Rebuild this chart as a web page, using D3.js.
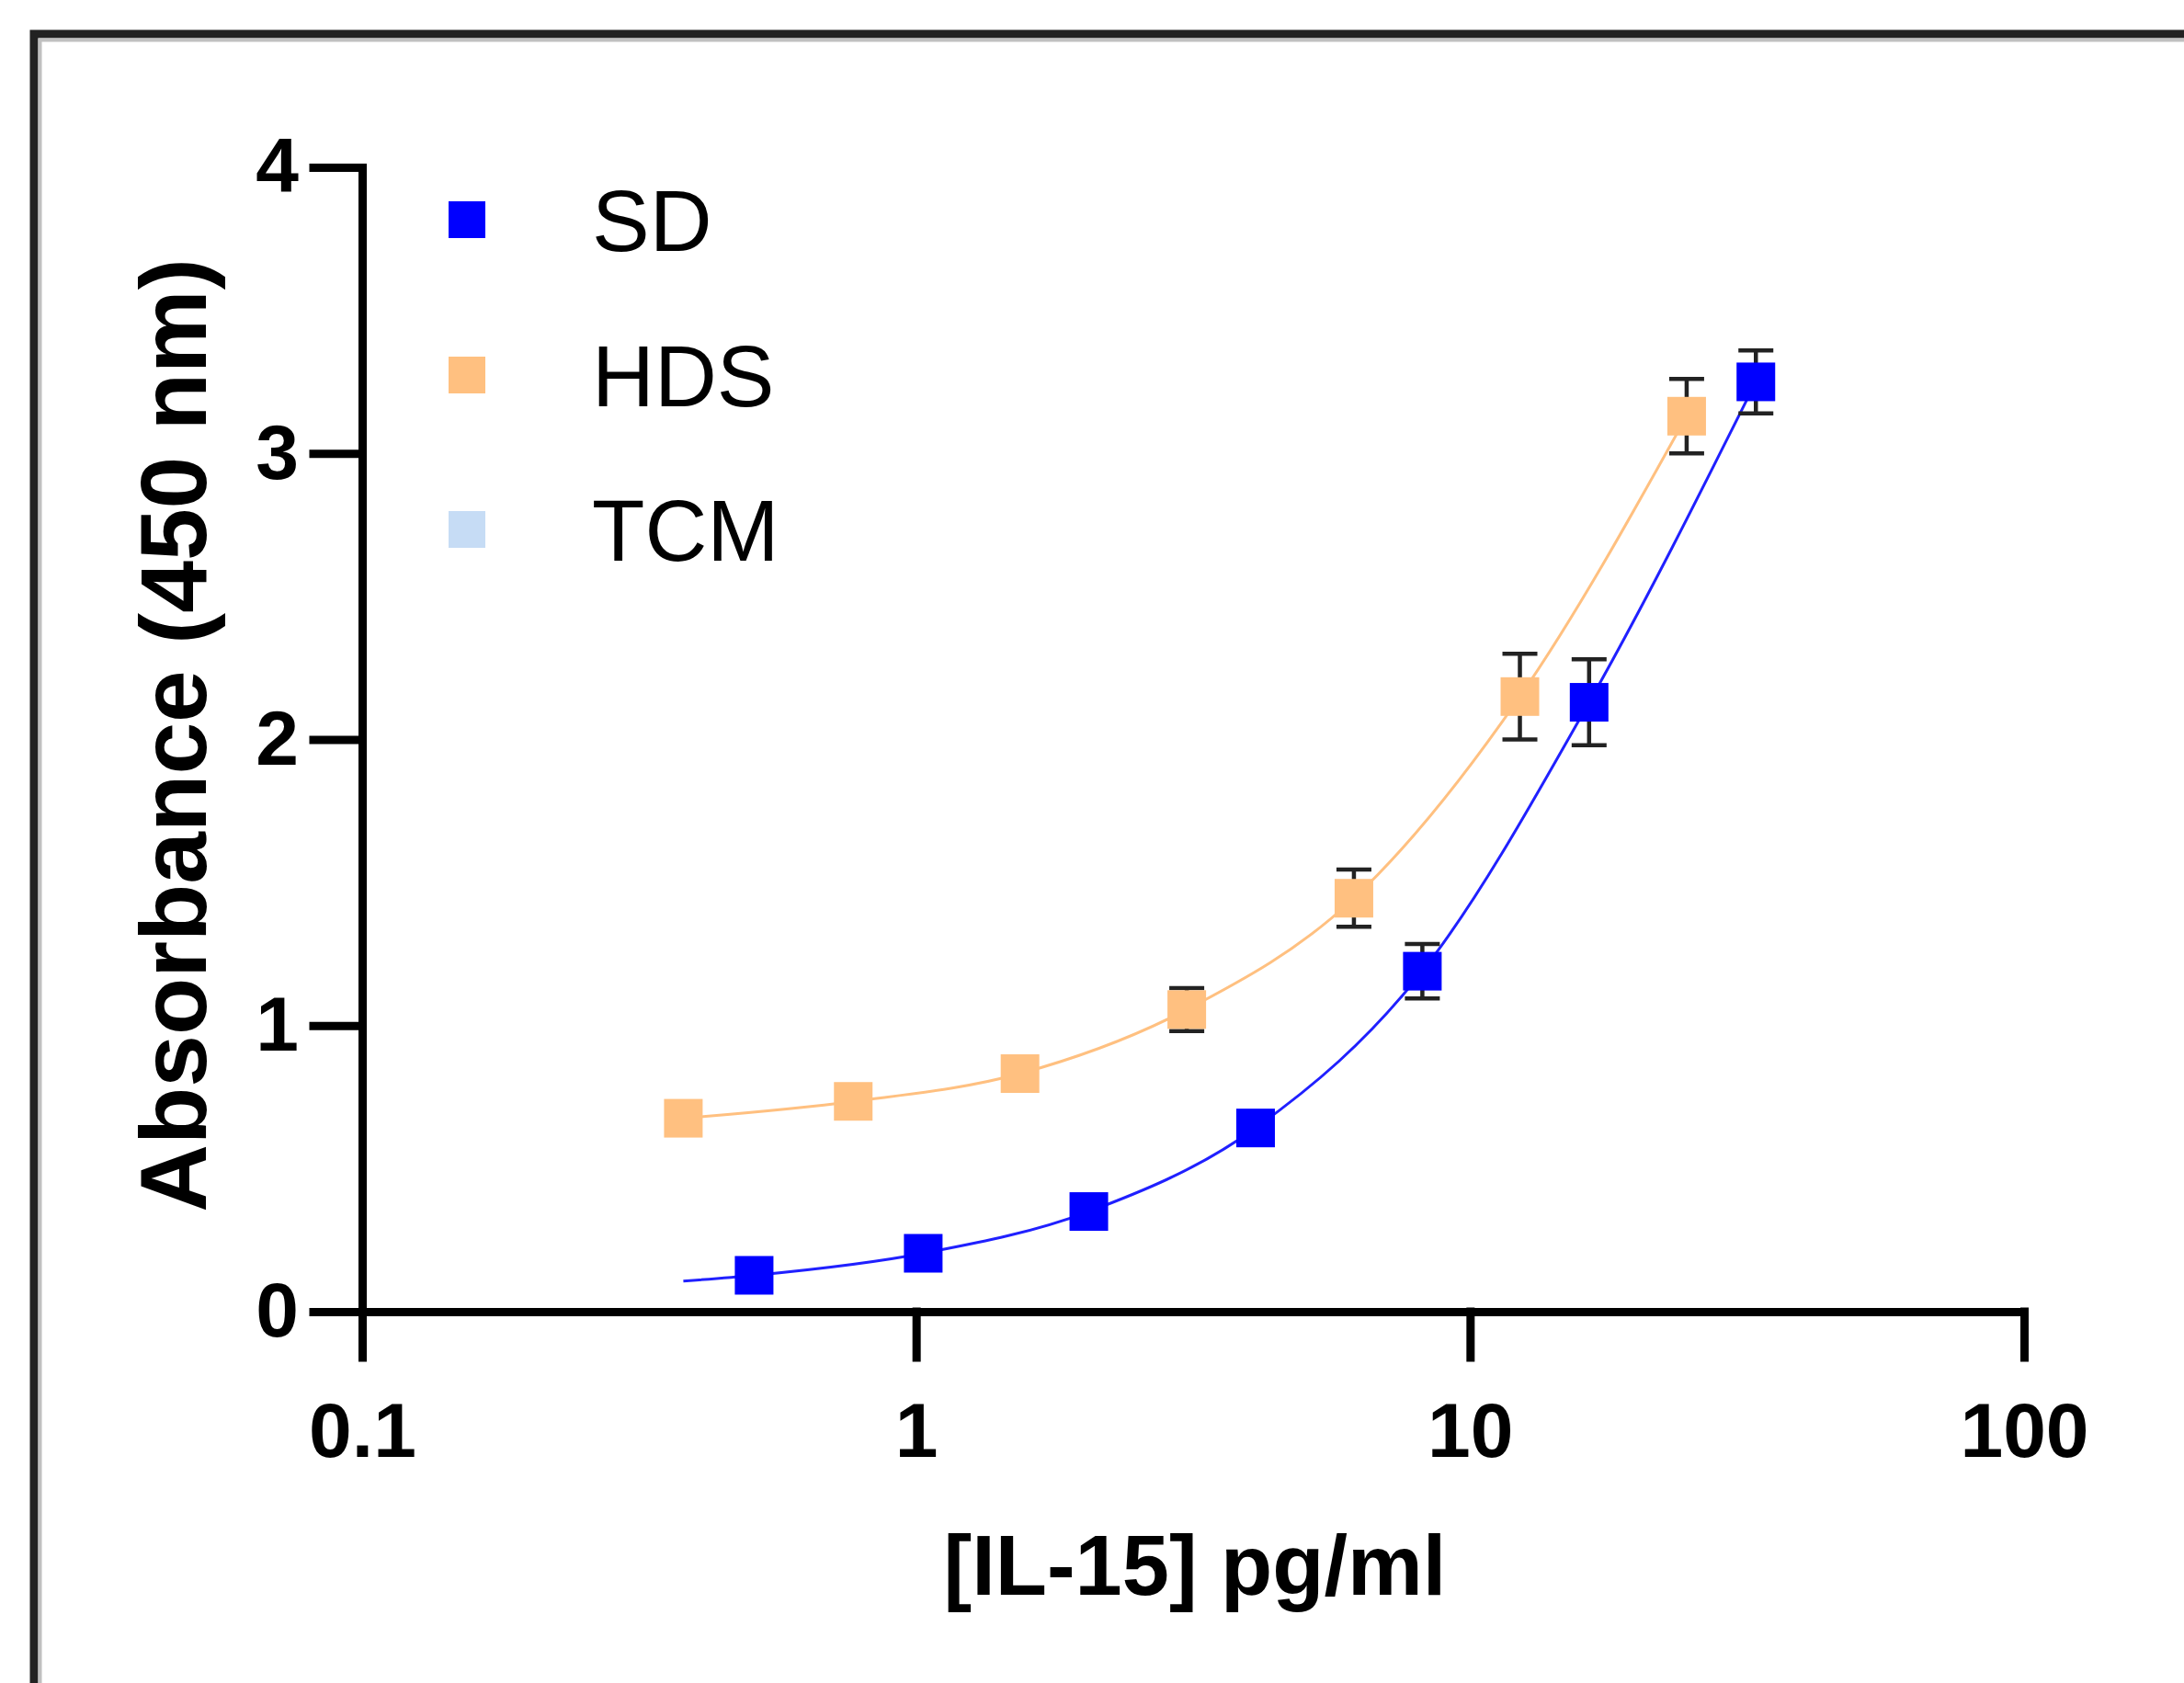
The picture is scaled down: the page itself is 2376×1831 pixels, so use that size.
<!DOCTYPE html>
<html>
<head>
<meta charset="utf-8">
<script src="https://cdn.jsdelivr.net/npm/d3@7"></script>
<style>
  body { margin: 0; background: #fff; }
  svg { display: block; font-family: "Liberation Sans", Arial, sans-serif; }
</style>
</head>
<body>
<svg id="chart" width="2376" height="1831"></svg>
<script>
// values
var sdConc = [0.51, 1.03, 2.05, 4.1, 8.2, 16.4, 32.8];
var sdAbs  = [0.127, 0.204, 0.35, 0.642, 1.19, 2.13, 3.25];
var sdErr  = [0, 0, 0, 0, 0.095, 0.15, 0.11];
var sdFitStart = [0.38, 0.107]; // fitted curve starts left of first standard

var hdsConc = [0.38, 0.77, 1.54, 3.08, 6.17, 12.3, 24.6];
var hdsAbs  = [0.676, 0.735, 0.832, 1.056, 1.445, 2.15, 3.13];
var hdsErr  = [0, 0, 0, 0.075, 0.1, 0.15, 0.13];

var legendNames  = ["SD", "HDS", "TCM"];
var legendColors = ["#0000ff", "#ffc080", "#c6dcf5"];

var xTicks = [0.1, 1, 10, 100];
var yTicks = [0, 1, 2, 3, 4];

var svg = d3.select("#chart");

// outer frame (runs off the right and bottom edges)
svg.append("rect")
    .attr("x", 37).attr("y", 37)
    .attr("width", 2500).attr("height", 2000)
    .attr("fill", "none")
    .attr("stroke", "#222")
    .attr("stroke-width", 9);
svg.append("rect")
    .attr("x", 43.5).attr("y", 43.5)
    .attr("width", 2500).attr("height", 2000)
    .attr("fill", "none")
    .attr("stroke", "#c0c0c0")
    .attr("stroke-width", 4);

var x = d3.scaleLog().domain([0.1, 100]).range([394, 2202]);
var y = d3.scaleLinear().domain([0, 4]).range([1427, 182]);

var xAxis = svg.append("g")
    .attr("transform", "translate(0,1427)")
    .call(d3.axisBottom(x).tickValues(xTicks).tickFormat(d3.format("~g"))
        .tickSize(50).tickSizeOuter(0).tickPadding(48));

var yAxis = svg.append("g")
    .attr("transform", "translate(394,0)")
    .call(d3.axisLeft(y).tickValues(yTicks).tickFormat(d3.format("d"))
        .tickSize(53).tickSizeOuter(0).tickPadding(16));

[xAxis, yAxis].forEach(function(g) {
    g.selectAll("path, line")
        .attr("stroke", "#000")
        .attr("stroke-width", 9)
        .attr("stroke-linecap", "square");
    g.selectAll("text")
        .attr("fill", "#000")
        .style("font-size", "84px")
        .style("font-weight", "bold");
});

// axis titles
svg.append("text")
    .attr("x", 1300).attr("y", 1735)
    .attr("text-anchor", "middle")
    .style("font-size", "92px")
    .style("font-weight", "bold")
    .text("[IL-15] pg/ml");

svg.append("text")
    .attr("transform", "translate(224,800) rotate(-90)")
    .attr("text-anchor", "middle")
    .style("font-size", "102px")
    .style("font-weight", "bold")
    .text("Absorbance (450 nm)");

// fitted curves
var line = d3.line()
    .x(function(d) { return x(d[0]); })
    .y(function(d) { return y(d[1]); })
    .curve(d3.curveMonotoneX);

var sdPts = d3.zip(sdConc, sdAbs, sdErr);
var hdsPts = d3.zip(hdsConc, hdsAbs, hdsErr);

svg.append("path")
    .attr("d", line(hdsPts))
    .attr("fill", "none")
    .attr("stroke", "#ffc080")
    .attr("stroke-width", 3);

svg.append("path")
    .attr("d", line([sdFitStart].concat(sdPts)))
    .attr("fill", "none")
    .attr("stroke", "#2020ff")
    .attr("stroke-width", 3);

// error bars then markers
var capW = 38, box = 42;
function drawSeries(pts, color) {
    var g = svg.append("g");
    var eb = g.selectAll(".err")
        .data(pts.filter(function(d) { return d[2] > 0; }))
        .enter().append("g")
        .attr("stroke", "#222")
        .attr("stroke-width", 4.5);
    eb.append("line")
        .attr("x1", function(d) { return x(d[0]); })
        .attr("x2", function(d) { return x(d[0]); })
        .attr("y1", function(d) { return y(d[1] - d[2]); })
        .attr("y2", function(d) { return y(d[1] + d[2]); });
    [-1, 1].forEach(function(s) {
        eb.append("line")
            .attr("x1", function(d) { return x(d[0]) - capW / 2; })
            .attr("x2", function(d) { return x(d[0]) + capW / 2; })
            .attr("y1", function(d) { return y(d[1] + s * d[2]); })
            .attr("y2", function(d) { return y(d[1] + s * d[2]); });
    });
    g.selectAll(".pt")
        .data(pts)
        .enter().append("rect")
        .attr("x", function(d) { return x(d[0]) - box / 2; })
        .attr("y", function(d) { return y(d[1]) - box / 2; })
        .attr("width", box).attr("height", box)
        .attr("fill", color);
}
drawSeries(hdsPts, "#ffc080");
drawSeries(sdPts, "#0000ff");

// legend
var legY = [239, 408, 576];
var leg = svg.append("g").selectAll("g")
    .data(legendNames)
    .enter().append("g")
    .attr("transform", function(d, i) { return "translate(508," + legY[i] + ")"; });
leg.append("rect")
    .attr("x", -20).attr("y", -20)
    .attr("width", 40).attr("height", 40)
    .attr("fill", function(d, i) { return legendColors[i]; });
leg.append("text")
    .attr("x", 136)
    .attr("dy", "0.36em")
    .style("font-size", "94px")
    .text(function(d) { return d; });
</script>
</body>
</html>
